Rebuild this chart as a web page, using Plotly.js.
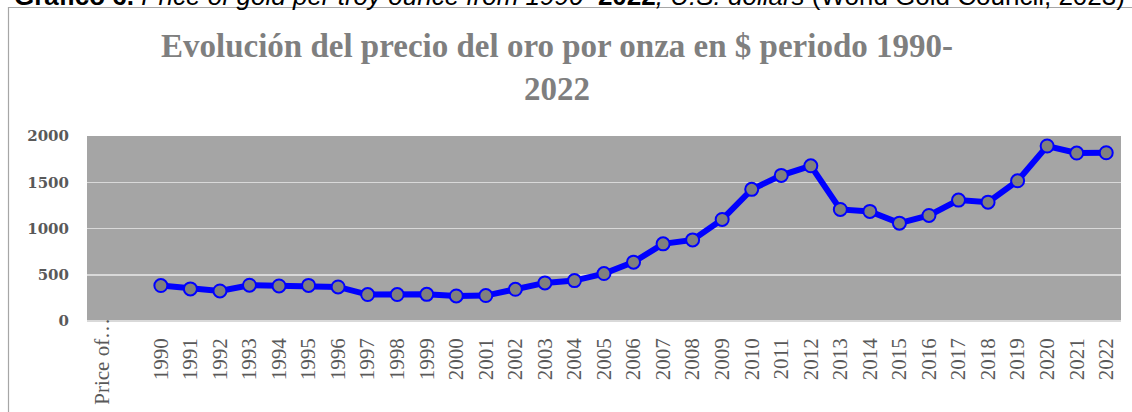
<!DOCTYPE html>
<html>
<head>
<meta charset="utf-8">
<script src="https://cdn.plot.ly/plotly-3.0.1.min.js"></script>
<style>html,body{margin:0;padding:0;background:#fff;}#chart{width:1132px;height:412px;}</style>
</head>
<body>
<div id="chart"></div>
<script>
const headerCategory = "Price of…";
const blankCategory = " ";
const years = ["1990","1991","1992","1993","1994","1995","1996","1997","1998","1999","2000","2001","2002","2003","2004","2005","2006","2007","2008","2009","2010","2011","2012","2013","2014","2015","2016","2017","2018","2019","2020","2021","2022"];
const prices = [383,347,325,387,379,385,368,286,286,288,271,275,343,412,437,513,636,834,877,1098,1423,1574,1678,1206,1185,1058,1141,1307,1285,1516,1892,1816,1819];
const yTicks = [0,500,1000,1500,2000];
const titleText = "Evolución del precio del oro por onza en $ periodo 1990-<br>2022";
const captionText = "<b>Gráfico 6.</b> <i>Price of gold per troy ounce from 1990–</i><b>2022</b><i>, U.S. dollars</i> (World Gold Council, 2023)";

const W = 1132, H = 412, L = 87, R = 11, T = 136, B = 91;
const pw = W - L - R, ph = H - T - B;
const px = x => (x - L) / pw;
const py = y => (H - B - y) / ph;

const trace = {
  type: "scatter", mode: "lines+markers",
  x: years, y: prices,
  line: {color: "#0000ff", width: 6},
  marker: {symbol: "circle", size: 13, color: "#808080", line: {color: "#0000ff", width: 2}},
  hoverinfo: "x+y", showlegend: false
};

const layout = {
  width: W, height: H,
  margin: {l: L, r: R, t: T, b: B, pad: 0},
  paper_bgcolor: "#ffffff", plot_bgcolor: "#a5a5a5",
  title: {
    text: titleText,
    font: {family: "Liberation Serif", size: 33, color: "#7f7f7f", weight: "bold"},
    x: 557 / W, xanchor: "center", xref: "container",
    y: 1 - 57 / H, yanchor: "top", yref: "container"
  },
  xaxis: {
    type: "category",
    categoryorder: "array",
    categoryarray: [headerCategory, blankCategory].concat(years),
    range: [-0.5, years.length + 1.5],
    tickmode: "array", tickvals: years, ticktext: years,
    tickangle: -90,
    tickfont: {family: "Liberation Serif", size: 21, color: "#595959"},
    ticks: "", showgrid: false, zeroline: false, showline: false,
    ticklabelstandoff: 12, fixedrange: true
  },
  yaxis: {
    range: [0, 2000],
    tickmode: "array", tickvals: yTicks, ticktext: yTicks.map(String),
    tickfont: {family: "DejaVu Serif", size: 15, color: "#595959", weight: "bold"},
    ticks: "", showgrid: true, gridcolor: "#d9d9d9", gridwidth: 1.5,
    zeroline: true, zerolinecolor: "#d9d9d9", zerolinewidth: 2,
    showline: false, ticklabelstandoff: 17, fixedrange: true
  },
  shapes: [{
    type: "rect", xref: "paper", yref: "paper",
    x0: px(8.5), x1: px(1145), y0: py(430), y1: py(7.5),
    line: {color: "#a6a6a6", width: 1.2}, fillcolor: "rgba(0,0,0,0)", layer: "below"
  }],
  annotations: [
    {
      text: headerCategory, xref: "x", x: headerCategory, yref: "paper", y: py(361),
      xanchor: "center", yanchor: "middle", textangle: -90, showarrow: false,
      font: {family: "Liberation Serif", size: 21, color: "#595959"}
    },
    {
      text: captionText, xref: "paper", x: px(12), yref: "paper", y: py(13),
      xanchor: "left", yanchor: "bottom", showarrow: false,
      font: {family: "Liberation Sans", size: 26, color: "#000000"}
    }
  ]
};

Plotly.newPlot("chart", [trace], layout, {displayModeBar: false, staticPlot: true});
</script>
</body>
</html>
